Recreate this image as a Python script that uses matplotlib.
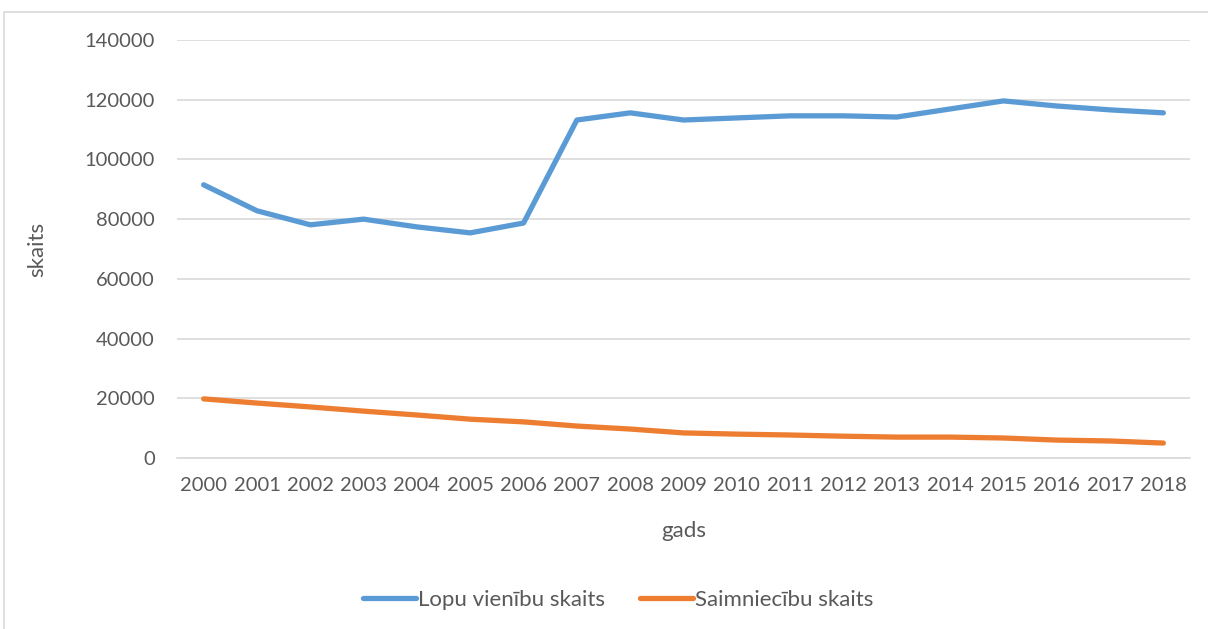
import matplotlib.pyplot as plt
from matplotlib.patches import Rectangle

years = [str(y) for y in range(2000, 2019)]
lopu_vienibas = [91500, 82800, 78100, 80000, 77400, 75400, 78700, 113200, 115600,
                 113200, 113900, 114600, 114600, 114200, 116900, 119600, 117900, 116600, 115600]
saimniecibas = [19800, 18400, 17100, 15700, 14400, 13000, 12100, 10700, 9700,
                8400, 8000, 7700, 7300, 7000, 7000, 6700, 6000, 5700, 5000]

plt.rcParams['font.family'] = ['Lato', 'DejaVu Sans']
text_color = '#595959'

fig = plt.figure(figsize=(12.08, 6.29), dpi=100)
fig.patches.append(Rectangle((4 / 1208, -0.01), 1.02, 1 - 12 / 629 + 0.01,
                             transform=fig.transFigure, fill=False,
                             edgecolor='#D9D9D9', linewidth=1.2))
ax = fig.add_axes([177 / 1208, 1 - 458 / 629, (1190 - 177) / 1208, (458 - 40) / 629])

x = range(len(years))
ax.plot(x, lopu_vienibas, color='#5B9BD5', linewidth=3.8, label='Lopu vienību skaits',
        solid_capstyle='round', solid_joinstyle='round')
ax.plot(x, saimniecibas, color='#ED7D31', linewidth=3.8, label='Saimniecību skaits',
        solid_capstyle='round', solid_joinstyle='round')

ax.set_xlim(-0.5, len(years) - 0.5)
ax.set_ylim(0, 140000)
ax.set_yticks(range(0, 140001, 20000))
ax.set_xticks(list(x))
ax.set_xticklabels(years)
ax.grid(axis='y', color='#D9D9D9', linewidth=1.2)
ax.set_axisbelow(True)
for s in ['top', 'right', 'left']:
    ax.spines[s].set_visible(False)
ax.spines['bottom'].set_color('#D9D9D9')
ax.spines['bottom'].set_linewidth(1.2)
ax.tick_params(length=0, labelsize=14.5, colors=text_color, pad=14)
ax.tick_params(axis='y', pad=16)

ax.set_xlabel('gads', fontsize=16, color=text_color, labelpad=19)
ax.set_ylabel('skaits', fontsize=16, color=text_color, labelpad=27)

ax.legend(loc='center', bbox_to_anchor=(618 / 1208, 1 - 600 / 629), bbox_transform=fig.transFigure,
          ncol=2, frameon=False, fontsize=16, labelcolor=text_color,
          handlelength=2.4, handletextpad=0.05, columnspacing=1.6)

fig.savefig('out.png', dpi=100)
